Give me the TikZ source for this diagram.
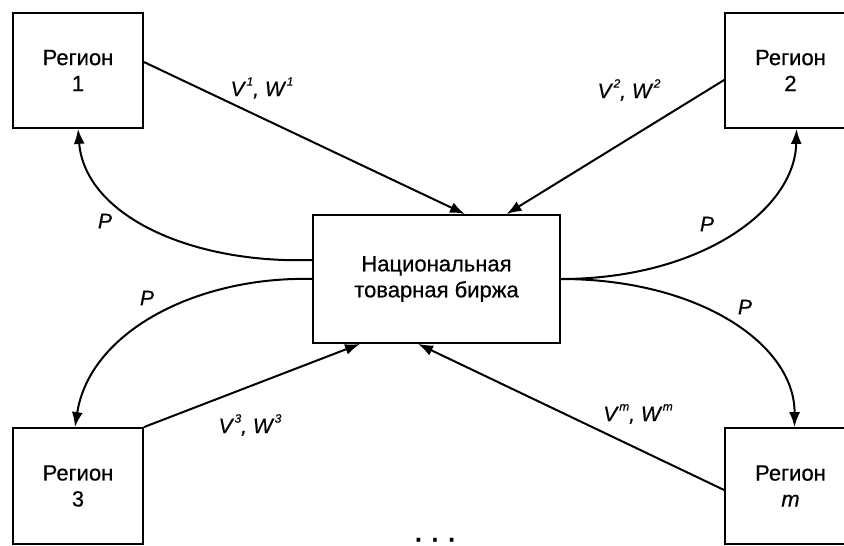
\documentclass[tikz,border=0pt]{standalone}
\usepackage{fontspec}
\setmainfont{Liberation Sans}[FakeBold=0.5]
\usetikzlibrary{arrows.meta}
\newcommand\supx[1]{\raisebox{0.5em}{\fontsize{12}{12}\selectfont #1}}
\newcommand\pairVW[1]{V\kern2pt\supx{#1}, W\kern2pt\supx{#1}}
\begin{document}
\begin{tikzpicture}[x=1pt,y=-1pt,
  box/.style={draw, line width=1.8pt, align=center, inner sep=0pt, font=\fontsize{22}{26}\selectfont},
  reg/.style={box, minimum width=130pt, minimum height=115pt},
  flow/.style={line width=2pt, -{Latex[length=15pt,width=11pt]}},
  lbl/.style={font=\fontsize{21}{26}\selectfont\itshape, inner sep=0pt}]
\useasboundingbox (0,0) rectangle (844,546);
\clip (0,0) rectangle (844,546);
\node[reg] (r1) at (78,70.5) {Регион\\1};
\node[reg, minimum width=131pt] (r2) at (790.5,70.5) {Регион\\2};
\node[reg, minimum height=116pt] (r3) at (78,486) {Регион\\3};
\node[reg, minimum width=131pt, minimum height=116pt] (rm) at (790.5,486) {Регион\\\textit{m}};
\node[box, minimum width=247pt, minimum height=128pt] (c) at (436.5,279) {Национальная\\товарная биржа};
% flows to exchange
\draw[flow] ([yshift=8.5pt]r1.east) -- ([xshift=28.5pt]c.north);
\draw[flow] ([yshift=-9.5pt]r2.west) -- ([xshift=70pt]c.north);
\draw[flow] (r3.north east) -- ([xshift=-76.5pt]c.south);
\draw[flow] ([yshift=-4pt]rm.west) -- ([xshift=-18.5pt]c.south);
% price flows
\draw[flow] ([yshift=19pt]c.west) .. controls (190,264) and (85,215) .. (r1.south);
\draw[flow] (c.west) .. controls (200,276) and (90,330) .. ([xshift=-3pt]r3.north);
\draw[flow] (c.east) .. controls (700,279) and (795,210) .. ([xshift=6pt]r2.south);
\draw[flow] (c.east) .. controls (700,279) and (795,345) .. ([xshift=4pt]rm.north);
% labels
\node[lbl] (l1) at (262,88) {\pairVW{1}};
\node[lbl] (l2) at (629,90) {\pairVW{2}};
\node[lbl] (l3) at (250,425) {\pairVW{3}};
\node[lbl] (lm) at (638,414) {\pairVW{m}};
\node[lbl] (p1) at (105,221) {P};
\node[lbl] (p3) at (147,298) {P};
\node[lbl] (p2) at (707,224) {P};
\node[lbl] (pm) at (745,307) {P};
\node[font=\fontsize{24}{24}\selectfont\bfseries, anchor=base, inner sep=0pt] (dots) at (435,541.5) {.\hspace{10pt}.\hspace{10pt}.};
\end{tikzpicture}
\end{document}
